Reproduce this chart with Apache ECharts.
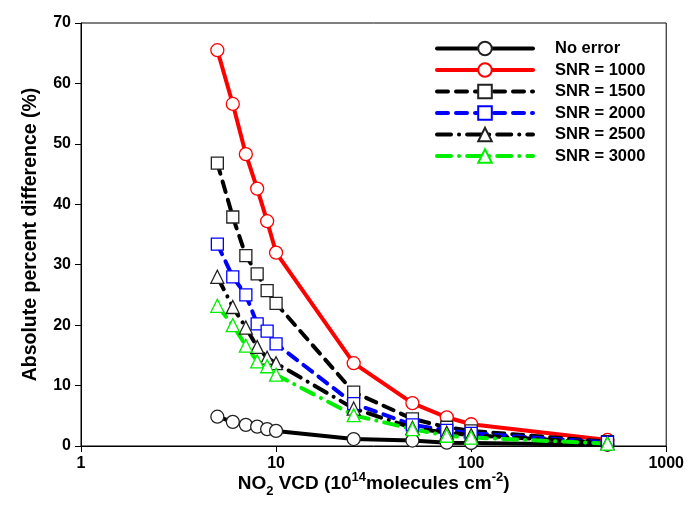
<!DOCTYPE html>
<html>
<head>
<meta charset="utf-8">
<script src="https://cdn.jsdelivr.net/npm/echarts@6/dist/echarts.min.js"></script>
<style>html,body{margin:0;padding:0;background:#fff}#c{width:687px;height:520px}</style>
</head>
<body>
<div id="c"></div>
<script>
var vcd = [5, 6, 7, 8, 9, 10, 25, 50, 75, 100, 500];
var noError = [4.85, 4.0, 3.5, 3.2, 2.8, 2.5, 1.15, 0.9, 0.55, 0.5, 0.2];
var snr1000 = [65.5, 56.6, 48.3, 42.6, 37.2, 32.0, 13.7, 7.1, 4.75, 3.6, 1.0];
var snr1500 = [46.8, 37.9, 31.5, 28.5, 25.7, 23.6, 8.9, 4.5, 3.1, 2.5, 0.7];
var snr2000 = [33.4, 28.0, 25.0, 20.2, 19.0, 16.9, 7.0, 3.5, 2.6, 2.1, 0.6];
var snr2500 = [28.0, 23.0, 19.6, 16.4, 14.6, 13.7, 6.2, 3.0, 2.2, 1.8, 0.5];
var snr3000 = [23.2, 20.0, 16.6, 14.0, 13.2, 11.8, 5.1, 2.8, 1.7, 1.4, 0.4];
var xTicks = [1, 10, 100, 1000];
var yTicks = [0, 10, 20, 30, 40, 50, 60, 70];

function pairs(ys) { return vcd.map(function (x, i) { return [x, ys[i]]; }); }

var FONT = 'Liberation Sans, Arial, sans-serif';
function mk(name, ys, color, dash, symbol, size) {
  return {
    name: name, type: 'line', data: pairs(ys),
    symbol: symbol, symbolSize: size, showSymbol: true,
    lineStyle: { color: color, width: 4, type: dash, cap: 'round' },
    itemStyle: { color: '#fff', borderColor: color === '#000' ? '#222' : color, borderWidth: 1.3 },
    emphasis: { disabled: true }, animation: false
  };
}

var chart = echarts.init(document.getElementById('c'));
chart.setOption({
  backgroundColor: '#fff',
  animation: false,
  grid: { left: 81, right: 19, top: 23, bottom: 74, show: true, borderColor: '#000', borderWidth: 1, backgroundColor: 'transparent' },
  legend: {
    left: 430, top: 35, orient: 'vertical', itemWidth: 96, itemHeight: 17, itemGap: 4.5,
    lineStyle: { width: 4 },
    textStyle: { fontFamily: FONT, fontWeight: 'bold', fontSize: 16.5, lineHeight: 14, color: '#000', padding: [0, 0, 0, 17] },
    data: ['No error', 'SNR = 1000', 'SNR = 1500', 'SNR = 2000', 'SNR = 2500', 'SNR = 3000']
  },
  xAxis: {
    type: 'log', logBase: 10, min: 1, max: 1000,
    name: '{n|NO}{s|2}{n| VCD (10}{p|14}{n|molecules cm}{p|-2}{n|)}',
    nameLocation: 'middle', nameGap: 25, nameMoveOverlap: false,
    nameTextStyle: {
      rich: {
        n: { fontFamily: FONT, fontWeight: 'bold', fontSize: 19, color: '#000', verticalAlign: 'bottom', lineHeight: 22 },
        s: { fontFamily: FONT, fontWeight: 'bold', fontSize: 13, color: '#000', verticalAlign: 'bottom', lineHeight: 16, padding: [0, 0, -5, 0] },
        p: { fontFamily: FONT, fontWeight: 'bold', fontSize: 13, color: '#000', verticalAlign: 'top', lineHeight: 16, padding: [0, 0, 9, 0] }
      }
    },
    axisLine: { lineStyle: { color: '#000', width: 1 } },
    axisTick: { show: true, inside: false, length: 6, lineStyle: { color: '#000' } },
    minorTick: { show: false },
    splitLine: { show: false },
    axisLabel: { fontFamily: FONT, fontWeight: 'bold', fontSize: 16, color: '#000', margin: 10,
      formatter: function (v) { return xTicks.indexOf(Math.round(v)) >= 0 ? String(Math.round(v)) : ''; } }
  },
  yAxis: {
    type: 'value', min: 0, max: 70, interval: 10,
    name: 'Absolute percent difference (%)', nameLocation: 'middle', nameGap: 40, nameMoveOverlap: false,
    nameTextStyle: { fontFamily: FONT, fontWeight: 'bold', fontSize: 19.5, color: '#000' },
    axisLine: { show: true, lineStyle: { color: '#000', width: 1 } },
    axisTick: { show: true, inside: false, length: 6, lineStyle: { color: '#000' } },
    splitLine: { show: false },
    axisLabel: { fontFamily: FONT, fontWeight: 'bold', fontSize: 16, color: '#000', margin: 10,
      formatter: function (v) { return yTicks.indexOf(v) >= 0 ? String(v) : ''; } }
  },
  series: [
    mk('No error', noError, '#000', 'solid', 'circle', 13),
    mk('SNR = 1000', snr1000, '#ff0000', 'solid', 'circle', 13),
    mk('SNR = 1500', snr1500, '#000', [11, 8], 'rect', 12),
    mk('SNR = 2000', snr2000, '#0000ff', [11, 8], 'rect', 12),
    mk('SNR = 2500', snr2500, '#000', [14, 8, 0.1, 8], 'triangle', 13),
    mk('SNR = 3000', snr3000, '#00ee00', [14, 8, 0.1, 8], 'triangle', 13)
  ]
});
</script>
</body>
</html>
